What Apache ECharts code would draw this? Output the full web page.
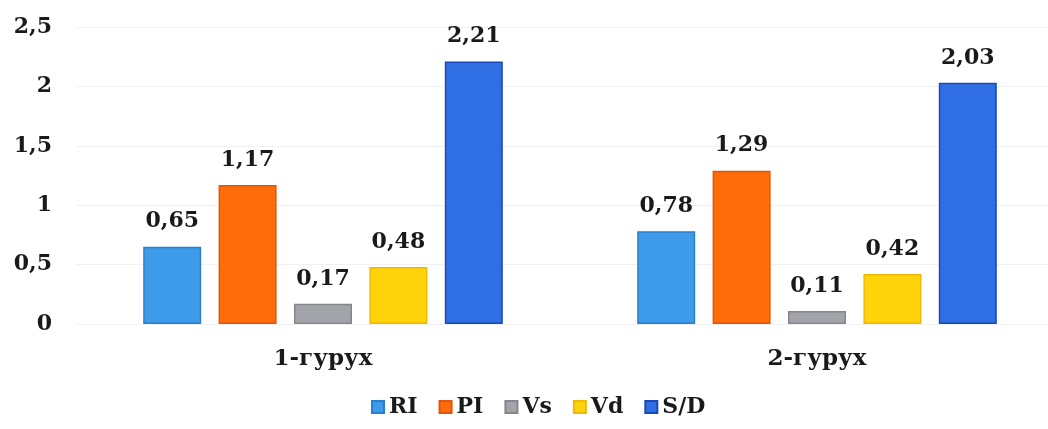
<!DOCTYPE html>
<html>
<head>
<meta charset="utf-8">
<script src="https://cdn.jsdelivr.net/npm/echarts@6/dist/echarts.min.js"></script>
<style>
  html, body { margin: 0; padding: 0; background: #ffffff; overflow: hidden; }
  #chart { width: 1064px; height: 429px; }
</style>
</head>
<body>
<div id="chart"></div>
<script>
// Groups on the category axis
const groups = ['1-гурух', '2-гурух'];

// Doppler indices per group
const seriesNames = ['RI', 'PI', 'Vs', 'Vd', 'S/D'];
const riValues = [0.65, 0.78];
const piValues = [1.17, 1.29];
const vsValues = [0.17, 0.11];
const vdValues = [0.48, 0.42];
const sdValues = [2.21, 2.03];

// Value axis ticks
const yTicks = [0, 0.5, 1, 1.5, 2, 2.5];

const fills = ['#3d9bea', '#ff6c0a', '#a3a3aa', '#ffd30a', '#2f6fe3'];
const borders = ['#2a7fcc', '#e0560a', '#85858d', '#f0b800', '#1b48b8'];
const valuesBySeries = [riValues, piValues, vsValues, vdValues, sdValues];

const commaNum = v => String(v).replace('.', ',');
const FONT = '"DejaVu Serif", "Liberation Serif", serif';

const chart = echarts.init(document.getElementById('chart'), null, { renderer: 'canvas' });

chart.setOption({
  animation: false,
  backgroundColor: '#ffffff',
  textStyle: { fontFamily: FONT },
  grid: { left: 76, top: 27, right: 0, height: 297, containLabel: false },
  legend: {
    data: seriesNames,
    bottom: 6,
    left: 366,
    itemWidth: 12,
    itemHeight: 12,
    itemGap: 21,
    icon: 'rect',
    textStyle: { fontFamily: FONT, fontWeight: 'bold', fontSize: 22, color: '#1a1a1a' }
  },
  xAxis: {
    type: 'category',
    data: groups,
    axisLine: { show: false },
    axisTick: { show: false },
    axisLabel: { fontFamily: FONT, fontWeight: 'bold', fontSize: 23, color: '#1a1a1a', margin: 24 }
  },
  yAxis: {
    type: 'value',
    min: yTicks[0],
    max: yTicks[yTicks.length - 1],
    interval: 0.5,
    axisLine: { show: false },
    axisTick: { show: false },
    splitLine: { lineStyle: { color: '#f1f1f1', width: 1 } },
    axisLabel: {
      fontFamily: FONT, fontWeight: 'bold', fontSize: 22, color: '#1a1a1a',
      margin: 24,
      formatter: v => commaNum(v)
    }
  },
  series: seriesNames.map((name, i) => ({
    name: name,
    type: 'bar',
    data: valuesBySeries[i],
    barWidth: 58,
    barGap: '30%',
    itemStyle: { color: fills[i], borderColor: borders[i], borderWidth: 1.5 },
    label: {
      show: true,
      position: 'top',
      distance: 14,
      fontFamily: FONT,
      fontWeight: 'bold',
      fontSize: 22,
      color: '#1a1a1a',
      formatter: p => commaNum(p.value)
    }
  }))
});
</script>
</body>
</html>
